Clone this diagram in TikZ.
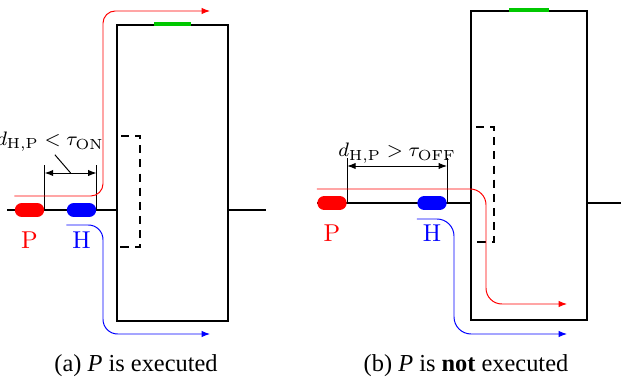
\documentclass[tikz,border=0pt]{standalone}
\usepackage{fontspec}
\newfontfamily\capfont{Liberation Serif}
\usetikzlibrary{arrows.meta,calc,positioning}
\definecolor{Ink}{HTML}{000000}
\definecolor{PktRed}{HTML}{FF0000}
\definecolor{PktBlue}{HTML}{0000FF}
\definecolor{Lamp}{HTML}{00C800}
\tikzset{
  gate/.style={
    draw=Ink, thick, inner sep=0pt,
    minimum width=45.5pt, minimum height=121.4pt
  },
  lamp/.style={
    fill=Lamp, inner sep=0pt,
    minimum width=15.2pt, minimum height=2pt
  },
  pill/.style={
    rounded corners=2.8pt, inner sep=0pt,
    minimum width=12pt, minimum height=5.7pt
  },
  wire/.style={thick, draw=Ink},
  window/.style={thick, draw=Ink, dash pattern=on 3.3pt off 2.5pt},
  measure/.style={thin, draw=Ink},
  span/.style={{Latex[length=3.5pt,width=2.6pt]}-{Latex[length=3.5pt,width=2.6pt]}, thin, draw=Ink},
  redpath/.style={-{Latex[length=3.4pt,width=2.6pt]}, draw=PktRed, rounded corners=5pt},
  bluepath/.style={-{Latex[length=3.4pt,width=2.6pt]}, draw=PktBlue, rounded corners=6pt},
  tag/.style={font=\footnotesize, inner sep=1pt},
  caption/.style={font=\capfont}
}

\begin{document}
\begin{tikzpicture}[x=0.41pt, y=0.41pt, node distance=2.4pt]
    \useasboundingbox (0,0) rectangle (621,386);
    % (a) P is executed
    \node[gate] (boxA) at (172.5,213) {};
    \node[lamp] (lampA) at (boxA.north) {};
    \coordinate (inA) at (7,176);
    \coordinate (outA) at (266,176);
    \draw[wire] (inA) -- (inA -| boxA.west);
    \draw[wire] (outA -| boxA.east) -- (outA);
    \draw[window] (121,250) -- (140,250) -- (140,139) -- (117,139);
    \node[pill,fill=PktRed] (pA) at (29.5,176) {};
    \node[pill,fill=PktBlue] (hA) at (81.5,176) {};
    \node[below=of pA,text=PktRed] (labPA) {P};
    \node[below=of hA,text=PktBlue] (labHA) {H};
    \draw[measure] (pA.east) -- ++(0,45);
    \draw[measure] (hA.east) -- ++(0,45);
    \coordinate (dA1) at ($(pA.east)+(0,37)$);
    \coordinate (dA2) at ($(hA.east)+(0,37)$);
    \draw[span] (dA1) -- (dA2);
    \node[tag] (gapA) at (50,244) {$d_{\mathrm{H,P}} < \tau_{\mathrm{ON}}$};
    \draw[measure] ([xshift=2pt]gapA.south) -- ($(dA1)!0.5!(dA2)$);
    \coordinate (redA) at ($(pA.west)+(0,14)$);
    \coordinate (redAend) at (210,375);
    \draw[redpath] (redA) -| (103,375) -- (redAend);
    \coordinate (blueA) at ($(hA.west)+(0,-15)$);
    \coordinate (blueAend) at (210,52);
    \draw[bluepath] (blueA) -| (103,52) -- (blueAend);
    \node[caption] (capA) at (136,20) {(a) \textit{P} is executed};

    % (b) P is not executed
    \node[gate,minimum width=47.6pt,minimum height=126.7pt] (boxB) at (529,220.5) {};
    \node[lamp,minimum width=16pt] (lampB) at (boxB.north) {};
    \coordinate (inB) at (317,183);
    \coordinate (outB) at (621,183);
    \draw[wire] (inB) -- (inB -| boxB.west);
    \draw[wire] (outB -| boxB.east) -- (outB);
    \draw[window] (476,259) -- (494,259) -- (494,144) -- (471,144);
    \node[pill,fill=PktRed] (pB) at (332,183) {};
    \node[pill,fill=PktBlue] (hB) at (432,183) {};
    \node[below=of pB,text=PktRed] (labPB) {P};
    \node[below=of hB,text=PktBlue] (labHB) {H};
    \draw[measure] (pB.east) -- ++(0,45);
    \draw[measure] (hB.east) -- ++(0,45);
    \coordinate (dB1) at ($(pB.east)+(0,37)$);
    \coordinate (dB2) at ($(hB.east)+(0,37)$);
    \draw[span] (dB1) -- (dB2);
    \node[tag,above=0pt of {$(dB1)!0.5!(dB2)$}] (gapB) {$d_{\mathrm{H,P}} > \tau_{\mathrm{OFF}}$};
    \coordinate (redB) at ($(pB.west)+(0,14)$);
    \coordinate (redBend) at (567,82);
    \draw[redpath,rounded corners=6.5pt] (redB) -| (486,82) -- (redBend);
    \coordinate (blueB) at ($(hB.west)+(0,-16)$);
    \coordinate (blueBend) at (567,52);
    \draw[bluepath,rounded corners=7pt] (blueB) -| (454,52) -- (blueBend);
    \node[caption] (capB) at (466,20) {(b) \textit{P} is \textbf{not} executed};
  \end{tikzpicture}
\end{document}
